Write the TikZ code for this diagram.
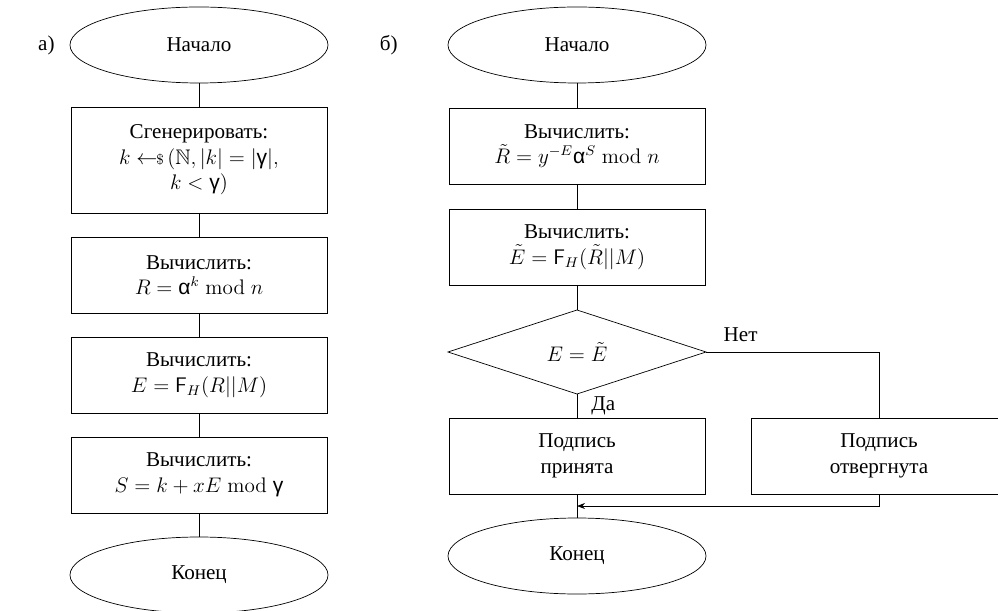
\documentclass[tikz,border=0pt,12pt]{standalone}
\usepackage{amsmath}
\usepackage{amssymb}
\usepackage[no-math]{fontspec}
\setmainfont{Liberation Serif}
\newfontfamily\grkfont{Liberation Sans}
\usetikzlibrary{arrows.meta, positioning, shapes.geometric}
\newcommand{\galpha}{\text{\grkfont α}}
\newcommand{\ggamma}{\text{\grkfont γ}}
\newcommand{\rsample}{\leftarrow\!\!{\scriptstyle\$}\,}

\begin{document}
\begin{tikzpicture}[
    box/.style={rectangle, draw=black, minimum width=5.12cm, minimum height=1.52cm, align=center, outer sep=0pt},
    term/.style={ellipse, draw=black, minimum width=5.16cm, minimum height=1.52cm, outer sep=0pt},
    decision/.style={diamond, draw=black, minimum width=5.16cm, minimum height=1.68cm, inner sep=0pt, outer sep=0pt}
]
    \useasboundingbox (-3.98,0.9) rectangle (15.98,-11.32);

    % а) формирование подписи
    \node[term] (startA) at (0,0) {Начало};
    \node[left=0.16cm of startA] (labA) {а)};
    \node[box, minimum height=2.12cm, below=0.48cm of startA] (genA) {Сгенерировать:\\ $k \rsample (\mathbb{N}, |k| = |\ggamma|,$\\ $k < \ggamma)$};
    \node[box, below=0.48cm of genA] (calcR) {Вычислить:\\ $R = \galpha^k \bmod n$};
    \node[box, below=0.48cm of calcR] (calcE) {Вычислить:\\ $E = \mathsf{F}_H(R||M)$};
    \node[box, below=0.48cm of calcE] (calcS) {Вычислить:\\ $S = k + xE \bmod \ggamma$};
    \node[term, below=0.48cm of calcS] (endA) {Конец};
    \draw (startA) -- (genA) -- (calcR) -- (calcE) -- (calcS) -- (endA);

    % б) проверка подписи
    \node[term] (startB) at (7.56,0) {Начало};
    \node[left=0.86cm of startB] (labB) {б)};
    \node[box, below=0.5cm of startB] (calcRt) {Вычислить:\\ $\tilde{R} = y^{-E}\galpha^S \bmod n$};
    \node[box, below=0.5cm of calcRt] (calcEt) {Вычислить:\\ $\tilde{E} = \mathsf{F}_H(\tilde{R}||M)$};
    \node[decision, below=0.5cm of calcEt] (check) {$E = \tilde{E}$};
    \node[box, below=0.48cm of check] (accept) {Подпись\\ принята};
    \node[box, right=0.92cm of accept] (reject) {Подпись\\ отвергнута};
    \node[term, below=0.48cm of accept] (endB) {Конец};
    \coordinate[below=0.24cm of accept.south] (merge);

    \draw (startB) -- (calcRt) -- (calcEt) -- (check);
    \draw (check) -- node[right, xshift=0.14cm] {Да} (accept);
    \draw (check) -| node[pos=0.1, above, yshift=0.06cm] {Нет} (reject);
    \draw (accept) -- (endB);
    \draw[-{Stealth[length=1.6mm, width=1.2mm]}] (reject) |- (merge);
\end{tikzpicture}
\end{document}
